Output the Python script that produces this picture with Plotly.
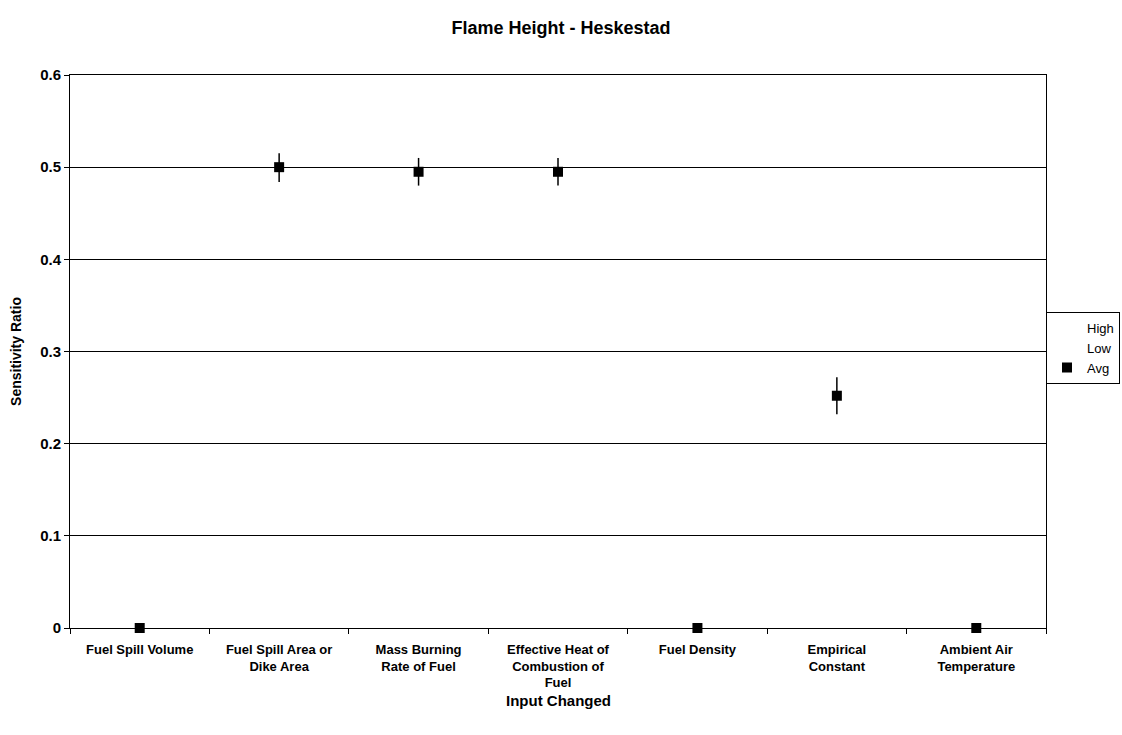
import plotly.graph_objects as go

categories = ["Fuel Spill Volume", "Fuel Spill Area or<br>Dike Area", "Mass Burning<br>Rate of Fuel",
              "Effective Heat of<br>Combustion of<br>Fuel", "Fuel Density", "Empirical<br>Constant",
              "Ambient Air<br>Temperature"]
high = [0.0, 0.515, 0.51, 0.51, 0.0, 0.272, 0.0]
low = [0.0, 0.484, 0.48, 0.48, 0.0, 0.232, 0.0]
avg = [0.0, 0.500, 0.495, 0.495, 0.0, 0.252, 0.0]
y_ticks = [0, 0.1, 0.2, 0.3, 0.4, 0.5, 0.6]

x = list(range(len(categories)))
font = "Liberation Sans, Arial, sans-serif"

fig = go.Figure()
fig.add_trace(go.Scatter(x=x, y=high, mode="markers", name="High",
                         marker=dict(size=6, color="rgba(0,0,0,0)")))
fig.add_trace(go.Scatter(x=x, y=low, mode="markers", name="Low",
                         marker=dict(size=6, color="rgba(0,0,0,0)")))
fig.add_trace(go.Scatter(
    x=x, y=avg, mode="markers", name="Avg", cliponaxis=False,
    marker=dict(symbol="square", size=10, color="black"),
    error_y=dict(type="data", symmetric=False,
                 array=[h - a for h, a in zip(high, avg)],
                 arrayminus=[a - l for a, l in zip(avg, low)],
                 color="black", thickness=1.5, width=0)))

fig.update_layout(
    width=1122, height=735,
    margin=dict(l=70, r=76, t=75, b=107, autoexpand=False),
    paper_bgcolor="white", plot_bgcolor="white",
    font=dict(family=font, size=14, color="black"),
    title=dict(text="<b>Flame Height - Heskestad</b>", x=0.5, xanchor="center",
               y=0.962, yanchor="middle", font=dict(size=18, family=font)),
    showlegend=True,
    legend=dict(x=1.0, xanchor="left", y=0.572, yanchor="top",
                bordercolor="black", borderwidth=1, bgcolor="white",
                font=dict(size=13, family=font), itemwidth=30,
                tracegroupgap=0),
    annotations=[dict(text="<b>Input Changed</b>", xref="paper", yref="paper",
                      x=0.5, y=-0.1320, xanchor="center", yanchor="middle",
                      showarrow=False, font=dict(size=15, family=font))],
)
fig.update_xaxes(
    range=[-0.5, len(categories) - 0.5],
    tickmode="array", tickvals=x, ticktext=["<b>%s</b>" % c for c in categories],
    ticks="", showgrid=False, zeroline=False,
    showline=True, linecolor="black", linewidth=1, mirror=True,
    tickfont=dict(size=13, family=font), ticklabelstandoff=9,
    minor=dict(tickmode="array", tickvals=[i - 0.5 for i in range(len(categories) + 1)],
               ticks="outside", ticklen=5, tickcolor="black", showgrid=False),
)
fig.update_yaxes(
    range=[0, 0.6], tickmode="array", tickvals=y_ticks,
    ticktext=["<b>%g</b>" % v for v in y_ticks],
    ticks="outside", ticklen=5, tickcolor="black",
    showgrid=True, gridcolor="black", gridwidth=1,
    zeroline=False, showline=True, linecolor="black", linewidth=1, mirror=True,
    tickfont=dict(size=15, family=font),
    title=dict(text="<b>Sensitivity Ratio</b>", font=dict(size=14, family=font), standoff=15),
)

fig.write_html("out.html")
